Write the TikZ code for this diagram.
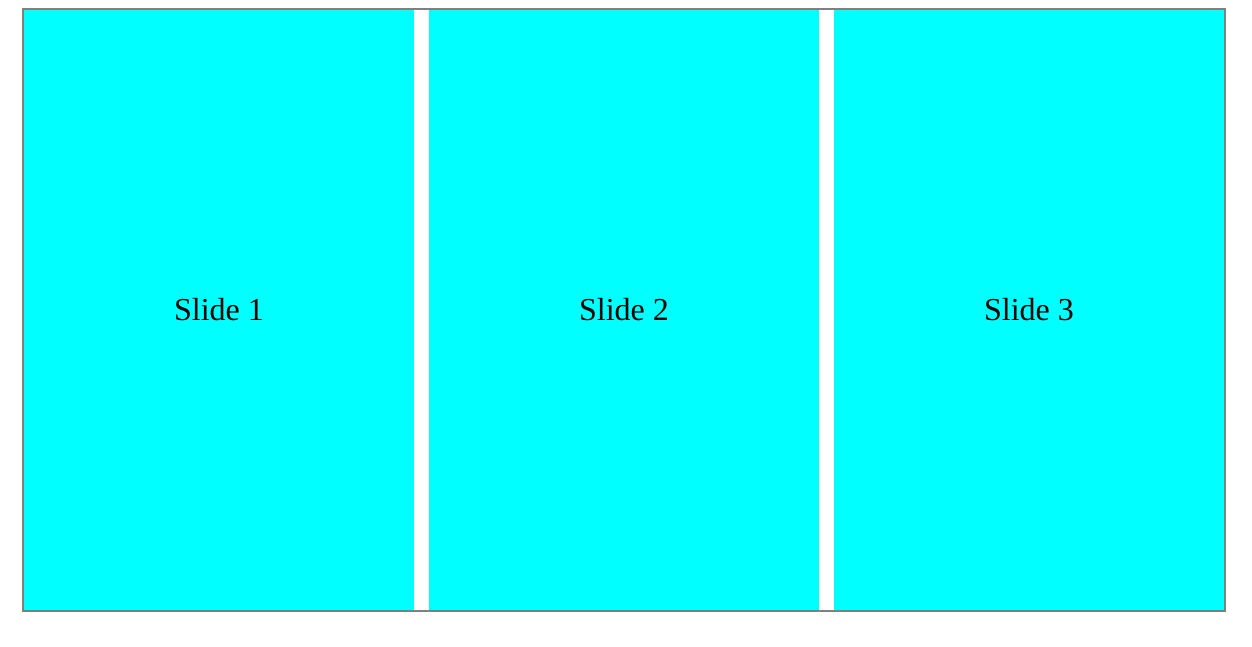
\documentclass[tikz,border=0pt]{standalone}
\usepackage{fontspec}
\setmainfont{Liberation Serif}
\begin{document}
\begin{tikzpicture}[x=1pt,y=-1pt,
  slidebox/.style={draw=none, minimum width=390pt, minimum height=600pt, inner sep=0pt, font=\fontsize{32}{38}\selectfont, text=black},
  frame/.style={draw=gray, line width=2pt}]
\useasboundingbox (0,0) rectangle (1252,646);
\definecolor{aqua}{RGB}{0,255,255}
\node[slidebox, fill=aqua] (s1) at (219,310) {\raisebox{-2pt}{Slide 1}};
\node[slidebox, fill=aqua] (s2) at (624,310) {\raisebox{-2pt}{Slide 2}};
\node[slidebox, fill=aqua] (s3) at (1029,310) {\raisebox{-2pt}{Slide 3}};
\draw[frame] (23,9) rectangle (1225,611);
\end{tikzpicture}
\end{document}
